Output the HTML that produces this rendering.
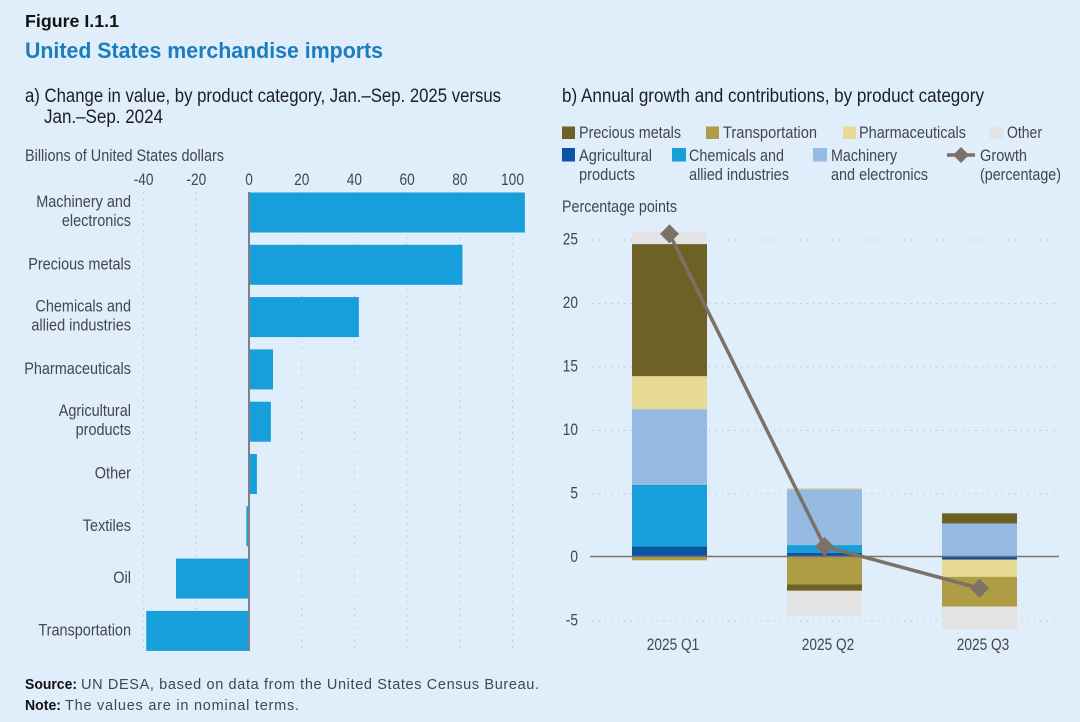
<!DOCTYPE html>
<html lang="en">
<head>
<meta charset="utf-8">
<title>United States merchandise imports</title>
<style>
html,body{margin:0;padding:0;background:#dfeefa;}
svg{display:block;font-family:"Liberation Sans",sans-serif;}
</style>
</head>
<body>
<svg id="fig" width="1080" height="722" viewBox="0 0 1080 722" xmlns="http://www.w3.org/2000/svg">
<rect x="0" y="0" width="1080" height="722" fill="#dfeefa"/>
<text x="25" y="27" font-size="17.5" font-weight="700" fill="#111" textLength="94" lengthAdjust="spacingAndGlyphs">Figure I.1.1</text>
<text x="25" y="58" font-size="22" font-weight="700" fill="#1b7dbd" textLength="358" lengthAdjust="spacingAndGlyphs">United States merchandise imports</text>
<text x="25" y="102" font-size="19" fill="#1d1d22" textLength="476" lengthAdjust="spacingAndGlyphs">a) Change in value, by product category, Jan.–Sep. 2025 versus</text>
<text x="44" y="123" font-size="19" fill="#1d1d22" textLength="119" lengthAdjust="spacingAndGlyphs">Jan.–Sep. 2024</text>
<text x="25" y="161" font-size="16.5" fill="#45454d" textLength="199" lengthAdjust="spacingAndGlyphs">Billions of United States dollars</text>
<text x="562" y="102" font-size="19" fill="#1d1d22" textLength="422" lengthAdjust="spacingAndGlyphs">b) Annual growth and contributions, by product category</text>

<g id="barChart"></g>
<g id="stackChart"></g>

<g font-size="17" fill="#45454d">
<g><rect x="562" y="126.5" width="13" height="12.5" fill="#6e6125"/><text x="579" y="138" textLength="102" lengthAdjust="spacingAndGlyphs">Precious metals</text></g>
<g><rect x="706" y="126.5" width="13" height="12.5" fill="#ae9d44"/><text x="723" y="138" textLength="94" lengthAdjust="spacingAndGlyphs">Transportation</text></g>
<g><rect x="843" y="126.5" width="13" height="12.5" fill="#e8da93"/><text x="859" y="138" textLength="107" lengthAdjust="spacingAndGlyphs">Pharmaceuticals</text></g>
<g><rect x="990" y="126.5" width="13" height="12.5" fill="#e3e3e3"/><text x="1007" y="138" textLength="35" lengthAdjust="spacingAndGlyphs">Other</text></g>
<g><rect x="562" y="148" width="13" height="13.5" fill="#0a54a5"/><text x="579" y="161" textLength="73" lengthAdjust="spacingAndGlyphs">Agricultural</text><text x="579" y="180" textLength="56" lengthAdjust="spacingAndGlyphs">products</text></g>
<g><rect x="672" y="148" width="14" height="13.5" fill="#169fda"/><text x="689" y="161" textLength="95" lengthAdjust="spacingAndGlyphs">Chemicals and</text><text x="689" y="180" textLength="100" lengthAdjust="spacingAndGlyphs">allied industries</text></g>
<g><rect x="813" y="148" width="14" height="13.5" fill="#95bbe3"/><text x="831" y="161" textLength="66" lengthAdjust="spacingAndGlyphs">Machinery</text><text x="831" y="180" textLength="97" lengthAdjust="spacingAndGlyphs">and electronics</text></g>
<g><line x1="947" y1="155" x2="975" y2="155" stroke="#7d7166" stroke-width="3.5"/><polygon points="961,147 969,155 961,163 953,155" fill="#7d7166"/><text x="980" y="161" textLength="47" lengthAdjust="spacingAndGlyphs">Growth</text><text x="980" y="180" textLength="81" lengthAdjust="spacingAndGlyphs">(percentage)</text></g>
</g>
<text x="562" y="212" font-size="16.5" fill="#45454d" textLength="115" lengthAdjust="spacingAndGlyphs">Percentage points</text>

<text x="25" y="689" font-size="14.5" font-weight="700" fill="#111" textLength="52" lengthAdjust="spacingAndGlyphs">Source:</text>
<text x="81" y="689" font-size="14.5" fill="#45454d" textLength="458" lengthAdjust="spacing">UN DESA, based on data from the United States Census Bureau.</text>
<text x="25" y="710" font-size="14.5" font-weight="700" fill="#111" textLength="36" lengthAdjust="spacingAndGlyphs">Note:</text>
<text x="65" y="710" font-size="14.5" fill="#45454d" textLength="234" lengthAdjust="spacing">The values are in nominal terms.</text>
</svg>

<script>
const barCategories = [["Machinery and","electronics"],["Precious metals"],["Chemicals and","allied industries"],["Pharmaceuticals"],["Agricultural","products"],["Other"],["Textiles"],["Oil"],["Transportation"]];
const barValues = [104.7, 81, 41.7, 9.1, 8.3, 3, -1, -27.7, -39];
const barTicks = [-40, -20, 0, 20, 40, 60, 80, 100];

const quarters = ["2025 Q1","2025 Q2","2025 Q3"];
const preciousMetals = [10.4, -0.5, 0.8];
const transportation = [-0.3, -2.2, -2.35];
const pharmaceuticals = [2.6, 0.1, -1.35];
const other = [1.0, -1.95, -1.8];
const agricultural = [0.8, 0.3, -0.25];
const chemicals = [4.85, 0.6, 0];
const machinery = [5.95, 4.4, 2.6];
const growth = [25.4, 0.8, -2.5];
const stackTicks = [25, 20, 15, 10, 5, 0, -5];

const NS = "http://www.w3.org/2000/svg";
function make(parent, tag, attrs) {
  const el = document.createElementNS(NS, tag);
  for (const k in attrs) el.setAttribute(k, attrs[k]);
  parent.appendChild(el);
  return el;
}
function label(parent, x, y, str, anchor, size, fill, squeeze) {
  const t = make(parent, "text", {x: x, y: y, "text-anchor": anchor, "font-size": size, fill: fill});
  t.textContent = str;
  const w = t.getComputedTextLength();
  t.setAttribute("textLength", (w * squeeze).toFixed(1));
  t.setAttribute("lengthAdjust", "spacingAndGlyphs");
  return t;
}

/* Panel a */
const gA = document.getElementById("barChart");
const xA = v => 249 + v * 2.635;
const rowTop = i => 192.5 + i * 52.3;
const BAR_H = 40;
barTicks.forEach(tick => {
  if (tick !== 0) {
    const g = make(gA, "line", {x1: xA(tick), x2: xA(tick), y1: 192, y2: 648, stroke: "#aab4bd", "stroke-width": 1, "stroke-dasharray": "1 5.5"});
    
    
  }
  const t = label(gA, xA(tick), 185, String(tick), "middle", 16.5, "#45454d", 0.83);
  
  
});
barValues.forEach((v, i) => {
  const r = make(gA, "rect", {x: Math.min(xA(v), xA(0)), y: rowTop(i), width: Math.abs(xA(v) - xA(0)), height: BAR_H, fill: "#169fda"});
  
  
  const lines = barCategories[i];
  const center = rowTop(i) + BAR_H / 2;
  lines.forEach((ln, j) => {
    const y = center + 4.5 + (j - (lines.length - 1) / 2) * 19 - (lines.length > 1 ? 0.5 : 0);
    const t = label(gA, 131, y, ln, "end", 17, "#45454d", 0.85);
    
    
  });
});
const axisA = make(gA, "line", {x1: xA(0), x2: xA(0), y1: 192, y2: 651, stroke: "#7f7f88", "stroke-width": 2});



/* Panel b */
const gB = document.getElementById("stackChart");
const yB = v => 556.5 - v * 12.7;
const xB = i => 669.5 + i * 155;
const STACK_W = 75;
stackTicks.forEach(tick => {
  if (tick !== 0) {
    const g = make(gB, "line", {x1: 592, x2: 1057, y1: yB(tick) + 1, y2: yB(tick) + 1, stroke: "#aab4bd", "stroke-width": 1, "stroke-dasharray": "1 5.5"});
    
    
  }
  const t = label(gB, 578, yB(tick) + 5.5, String(tick), "end", 16.5, "#45454d", 0.83);
  
  
});
const stackSeries = [
  [agricultural, "#0a54a5"],
  [chemicals, "#169fda"],
  [machinery, "#95bbe3"],
  [pharmaceuticals, "#e8da93"],
  [transportation, "#ae9d44"],
  [preciousMetals, "#6e6125"],
  [other, "#e3e3e3"]
];
quarters.forEach((q, i) => {
  let pos = 0, neg = 0;
  stackSeries.forEach(s => {
    const v = s[0][i];
    if (!v) return;
    const start = v > 0 ? pos : neg;
    const end = start + v;
    if (v > 0) pos = end; else neg = end;
    const r = make(gB, "rect", {x: xB(i) - STACK_W / 2, y: Math.min(yB(start), yB(end)), width: STACK_W, height: Math.abs(yB(end) - yB(start)), fill: s[1]});
    
    
  });
  const t = label(gB, xB(i) + 3.5, 650, q, "middle", 16.5, "#45454d", 0.83);
  
  
});
const zeroB = make(gB, "line", {x1: 590, x2: 1059, y1: yB(0), y2: yB(0), stroke: "#7d736b", "stroke-width": 1.5});


const growthLine = make(gB, "polyline", {points: growth.map((v, i) => xB(i) + "," + yB(v)).join(" "), fill: "none", stroke: "#7d7166", "stroke-width": 3.5});


growth.forEach((v, i) => {
  const x = xB(i), y = yB(v), d = 9.5;
  const m = make(gB, "polygon", {points: `${x},${y - d} ${x + d},${y} ${x},${y + d} ${x - d},${y}`, fill: "#7d7166"});
  
  
});
</script>
</body>
</html>
